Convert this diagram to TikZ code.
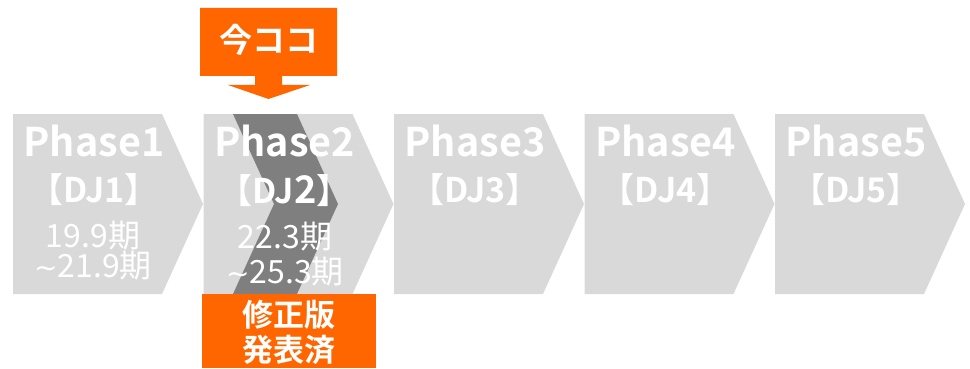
\documentclass[tikz,border=0pt]{standalone}
\usepackage{fontspec}
\setmainfont{Noto Sans CJK JP}[BoldFont={Noto Sans CJK JP Bold}]
\newfontfamily\mysymfont{DejaVu Sans}
\definecolor{lgray}{HTML}{D9D9D9}
\definecolor{dgray}{HTML}{7F7F7F}
\definecolor{orng}{HTML}{FF6600}
\newcommand{\mytilde}{{\mysymfont\fontsize{28}{28}\selectfont ∼}}
\tikzset{
  phasebox/.style={fill=lgray,draw=none},
  ptitle/.style={text=white,font=\bfseries\fontsize{39.5}{39.5}\selectfont,anchor=base,inner sep=0pt},
  pdj/.style={text=white,font=\bfseries\fontsize{34}{34}\selectfont,anchor=base,inner sep=0pt},
  pdate/.style={text=white,font=\fontsize{32}{32}\selectfont,anchor=base,inner sep=0pt},
  otext/.style={text=white,font=\bfseries\fontsize{31}{31}\selectfont,anchor=base,inner sep=0pt},
}
\begin{document}
\begin{tikzpicture}[x=1pt,y=-1pt]
\useasboundingbox (0,0) rectangle (970,369);
% phase shapes
\foreach \L in {13,203.5,394,584.5,775}{
  \fill[phasebox] (\L,114) -- (\L+149,114) -- (\L+190,204) -- (\L+149,294) -- (\L,294) -- cycle;
}
% dark chevron in phase 2
\fill[dgray] (233,114) -- (297,114) -- (338,204) -- (297,294) -- (233,294) -- (274,204) -- cycle;
% texts
\node[ptitle] (p1) at (94,157) {Phase1};
\node[pdj] (d1) at (94,202) {【DJ1】};
\node[pdate] (t1a) at (93,247) {19.9期};
\node[pdate] (t1b) at (93,277) {\mytilde 21.9期};
\node[ptitle] (p2) at (284.5,157) {Phase2};
\node[pdj] (d2) at (284.5,203) {【DJ{\fontsize{38}{38}\selectfont 2}】};
\node[pdate] (t2a) at (285,248) {22.3期};
\node[pdate] (t2b) at (285,283) {\mytilde 25.3期};
\node[ptitle] (p3) at (475,157) {Phase3};
\node[pdj] (d3) at (475,202) {【DJ3】};
\node[ptitle] (p4) at (665.5,157) {Phase4};
\node[pdj] (d4) at (665.5,202) {【DJ4】};
\node[ptitle] (p5) at (856,157) {Phase5};
\node[pdj] (d5) at (856,202) {【DJ5】};
% "now here" callout
\fill[orng] (200,8) -- (337,8) -- (337,76) -- (282,76) -- (282,85) -- (310,85) -- (268.5,99) -- (228,85) -- (255,85) -- (255,76) -- (200,76) -- cycle;
\node[otext,font=\bfseries\fontsize{33}{33}\selectfont] (now) at (268.5,53) {今ココ};
% bottom box
\fill[orng] (202,294) rectangle (376,368);
\node[otext] (r1) at (289,326) {修正版};
\node[otext] (r2) at (289,361) {発表済};
\end{tikzpicture}
\end{document}
